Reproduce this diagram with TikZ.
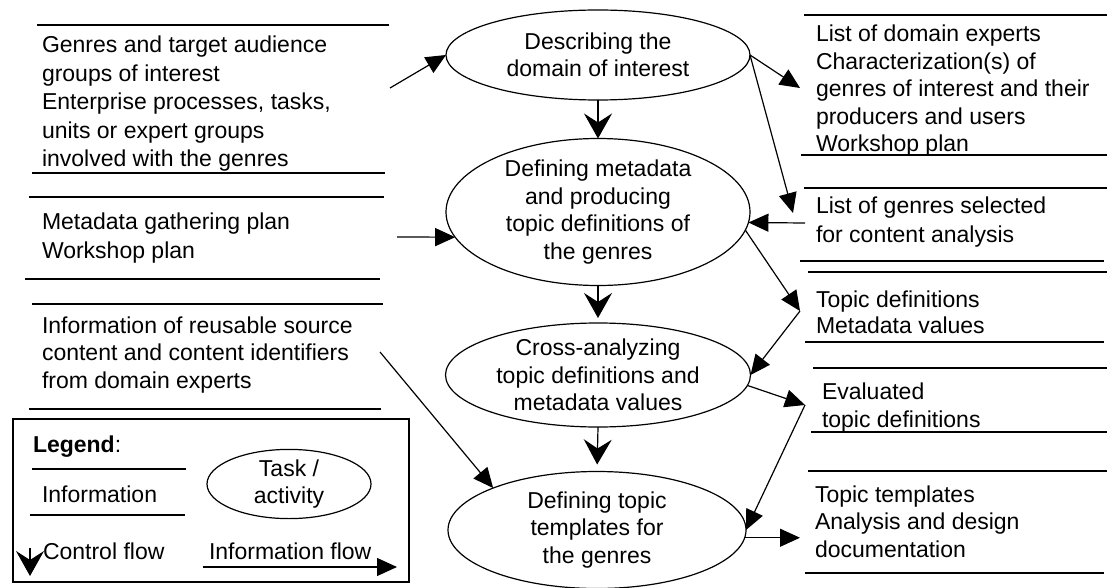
\documentclass[tikz,border=0pt]{standalone}
\usepackage{fontspec}
\setmainfont{Liberation Sans}
\usetikzlibrary{arrows.meta,shapes.geometric}
\begin{document}
\begin{tikzpicture}[x=1pt,y=-1pt,
  every node/.style={inner sep=0pt, outer sep=0pt},
  txt/.style={align=left, anchor=base west},
  task/.style={draw, line width=1.2pt, ellipse, font=\fontsize{23}{27.5}\selectfont, align=center},
  infoline/.style={line width=1.6pt},
  ctrl/.style={line width=1.2pt, -{Stealth[length=25pt,width=28pt,inset=9pt]}},
  flow/.style={line width=1.2pt, -{Triangle[length=20pt,width=18pt]}},
]
\useasboundingbox[fill=white] (0,0) rectangle (1107,588);

% ---------- tasks ----------
\node[task, minimum width=304pt, minimum height=90pt] (E1) at (598,55) {Describing the\\domain of interest};
\node[task, minimum width=304pt, minimum height=132pt] (E2) at (598,212) {Defining metadata\\and producing\\topic definitions of\\the genres};
\node[task, minimum width=305pt, minimum height=104pt] (E3) at (598,375) {Cross-analyzing\\topic definitions and\\metadata values};
\node[task, minimum width=298pt, minimum height=117pt] (E4) at (597,530) {Defining topic\\templates for\\the genres};

% ---------- information (left) ----------
% (base anchor of a multi-line node = baseline of its last line)
\draw[infoline] (37,25) -- (389,25);
\draw[infoline] (32,173) -- (385,173);
\node[txt, font=\fontsize{23}{28.5}\selectfont] (in1) at (42,167) {Genres and target audience\\groups of interest\\Enterprise processes, tasks,\\units or expert groups\\involved with the genres};

\draw[infoline] (29,197) -- (384,197);
\draw[infoline] (25,279) -- (380,279);
\node[txt, font=\fontsize{23}{29}\selectfont] (in2) at (42,258) {Metadata gathering plan\\Workshop plan};

\draw[infoline] (32,304) -- (383,304);
\draw[infoline] (29,409) -- (381,409);
\node[txt, font=\fontsize{23}{27.5}\selectfont] (in3) at (42,388) {Information of reusable source\\content and content identifiers\\from domain experts};

% ---------- information (right) ----------
\draw[infoline] (804,15) -- (1107,15);
\draw[infoline] (801,155) -- (1107,155);
\node[txt, font=\fontsize{23}{27.5}\selectfont] (out1) at (816,152) {List of domain experts\\Characterization(s) of\\genres of interest and their\\producers and users\\Workshop plan};

\draw[infoline] (804,188) -- (1107,188);
\draw[infoline] (800,261) -- (1104,261);
\node[txt, font=\fontsize{23}{29}\selectfont] (out2) at (816,242) {List of genres selected\\for content analysis};

\draw[infoline] (808,272) -- (1107,272);
\draw[infoline] (805,342) -- (1104,342);
\node[txt, font=\fontsize{23}{26}\selectfont] (out3) at (816,333) {Topic definitions\\Metadata values};

\draw[infoline] (813,368) -- (1107,368);
\draw[infoline] (811,432) -- (1107,432);
\node[txt, font=\fontsize{23}{28}\selectfont] (out4) at (822,427) {Evaluated\\topic definitions};

\draw[infoline] (808,471) -- (1107,471);
\draw[infoline] (805,573) -- (1104,573);
\node[txt, font=\fontsize{23}{27.5}\selectfont] (out5) at (815,557) {Topic templates\\Analysis and design\\documentation};

% ---------- control flow ----------
\draw[ctrl] (E1.south) -- (E2.north);
\draw[ctrl, shorten >=5pt] (E2.south) -- (E3.north);
\draw[ctrl, shorten >=7pt] (E3.south) -- (E4.north);

% ---------- information flow ----------
\coordinate (in1a) at (390,88);
\coordinate (in2a) at (397,237);
\coordinate (in3a) at (380,352);
\coordinate (out1a) at (800,88);
\coordinate (out2a) at (793,213);
\coordinate (out2b) at (805,223);
\coordinate (out3a) at (800,311);
\coordinate (out4a) at (805,405);
\coordinate (out5a) at (800,537);

\draw[flow] (in1a) -- (E1.west);
\draw[flow] (E1.east) -- (out1a);
\draw[flow] (E1.east) -- (out2a);
\draw[flow] (out2b) -- (E2.-4);
\draw[flow] (in2a) -- (E2.190);
\draw[flow] (E2.-7) -- (out3a);
\draw[flow] (out3a) -- (E3.east);
\draw[flow] (E3.-4) -- (out4a);
\draw[flow] (out4a) -- (E4.east);
\draw[flow] (E4.-3) -- (E4.-3 -| out5a);
\draw[flow] (in3a) -- (E4.158);

% ---------- legend ----------
\node[draw, line width=1.2pt, minimum width=396pt, minimum height=163pt, anchor=north west] (legend) at (13,419) {};
\node[txt, font=\fontsize{23}{28}\selectfont] (legtitle) at (33,452) {\textbf{Legend}:};
\draw[infoline] (32,469) -- (186,469);
\draw[infoline] (30,515) -- (185,515);
\node[txt, font=\fontsize{23}{28}\selectfont] (leginfo) at (42,502) {Information};
\node[task, minimum width=164pt, minimum height=64pt] (legtask) at (289,484) {Task /\\activity};
\coordinate (lc1) at (30,548);
\coordinate (lc2) at (30,576);
\draw[ctrl] (lc1) -- (lc2);
\node[txt, font=\fontsize{23}{28}\selectfont] (legctrl) at (43,559) {Control flow};
\coordinate (lf1) at (203,567);
\coordinate (lf2) at (397,567);
\draw[flow] (lf1) -- (lf2);
\node[txt, font=\fontsize{23}{28}\selectfont] (legflow) at (209,559) {Information flow};
\end{tikzpicture}
\end{document}
